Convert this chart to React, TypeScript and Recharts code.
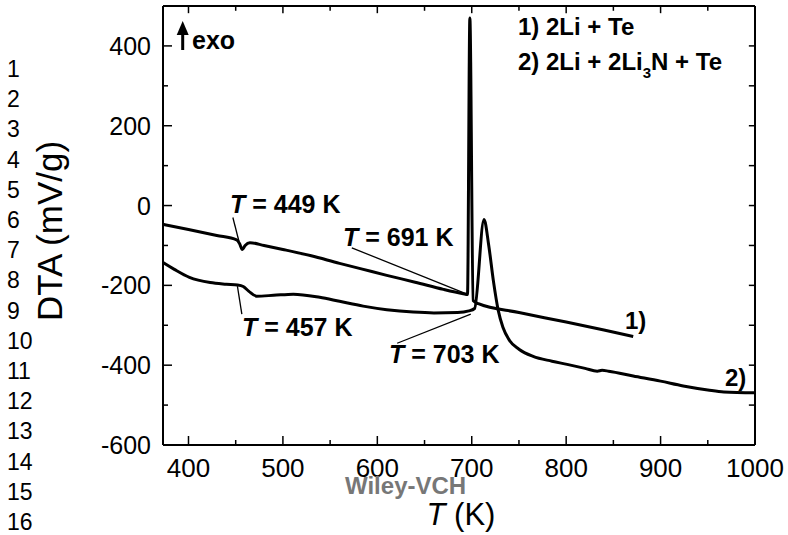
import React from 'react';
import { LineChart, Line, XAxis, YAxis, ReferenceLine } from 'recharts';

const FONT = '"Liberation Sans", Arial, Helvetica, sans-serif';

// curve 1) 2Li + Te
const temp1 = [373, 400, 430, 451, 454, 457, 460, 465, 480, 500, 530, 560, 582, 610, 640, 670, 691, 695.5, 698, 701.5, 707, 750, 800, 840, 871];
const dta1 = [-47, -60, -75, -86, -95, -110, -100, -93, -100, -110, -126, -145, -158, -175, -192, -210, -221, -223, 470, -238, -246, -268, -292, -312, -328];

// curve 2) 2Li + 2Li3N + Te
const temp2 = [373, 385, 401, 423, 440, 452, 458, 464, 472, 490, 511, 539, 560, 585, 610, 638, 660, 685, 697, 703, 713, 718, 723, 728, 733, 740, 750, 765, 785, 801, 820, 833, 838, 845, 871, 900, 924, 950, 967, 1000];
const dta2 = [-143, -160, -180, -193, -197, -199, -203, -215, -227, -225, -222, -230, -240, -252, -261, -267, -269, -268, -264, -258, -35, -100, -190, -262, -305, -338, -360, -378, -390, -398, -408, -415, -413, -415, -427, -440, -452, -462, -467, -469];

const xTicks = [400, 450, 500, 550, 600, 650, 700, 750, 800, 850, 900, 950, 1000];
const yTicks = [-600, -500, -400, -300, -200, -100, 0, 100, 200, 300, 400];
const rowNumbers = [1, 2, 3, 4, 5, 6, 7, 8, 9, 10, 11, 12, 13, 14, 15, 16];

const X_MIN = 373;
const X_MAX = 1000;
const Y_MIN = -600;
const Y_MAX = 500;

// leader lines from the onset labels to the curves, in (T, DTA)
const leaderSegments = [
  [{ x: 447, y: -30 }, { x: 453.5, y: -90 }],
  [{ x: 451.8, y: -202 }, { x: 456.5, y: -272 }],
  [{ x: 573, y: -106 }, { x: 695, y: -222 }],
  [{ x: 621, y: -345 }, { x: 699, y: -272 }],
];

const curve1 = temp1.map((t, i) => ({ t, dta: dta1[i] }));
const curve2 = temp2.map((t, i) => ({ t, dta: dta2[i] }));

// inward ticks on the top and right edges of the frame (in data units)
const topTickSegs = xTicks.map((v) => [
  { x: v, y: Y_MAX },
  { x: v, y: Y_MAX - (v % 100 === 0 ? 18 : 12) },
]);
const rightTickSegs = yTicks.map((v) => [
  { x: X_MAX, y: v },
  { x: X_MAX - 6.5, y: v },
]);

const tickStroke = { stroke: '#000', strokeWidth: 1.5 };

const BottomTick = ({ x, y, payload }: any) => {
  const major = payload.value % 100 === 0;
  return (
    <g>
      <line x1={x} y1={y} x2={x} y2={y - (major ? 9 : 5)} {...tickStroke} />
      {major && (
        <text x={x} y={y + 32} textAnchor="middle" fontSize={26} fontFamily={FONT} fill="#000">
          {payload.value}
        </text>
      )}
    </g>
  );
};

const LeftTick = ({ x, y, payload }: any) => {
  const major = payload.value % 200 === 0;
  return (
    <g>
      <line x1={x} y1={y} x2={x + (major ? 9 : 5)} y2={y} {...tickStroke} />
      {major && (
        <text x={x - 12} y={y + 9} textAnchor="end" fontSize={25} fontFamily={FONT} fill="#000">
          {payload.value}
        </text>
      )}
    </g>
  );
};

const axisLine = { stroke: '#000', strokeWidth: 2 };

const Annot = ({ x, y, value }: { x: number; y: number; value: string }) => (
  <text x={x} y={y} fontSize={25} fontWeight="bold" fontFamily={FONT} fill="#000">
    <tspan fontStyle="italic">T</tspan>
    {` = ${value} K`}
  </text>
);

export default function App() {
  return (
    <div style={{ position: 'absolute', left: 0, top: 0, width: 788, height: 535, background: '#fff' }}>
      <LineChart width={788} height={535} margin={{ top: 6, right: 33, bottom: 30, left: 0 }}>
        <XAxis
          xAxisId="b"
          type="number"
          dataKey="t"
          domain={[X_MIN, X_MAX]}
          allowDataOverflow
          ticks={xTicks}
          interval={0}
          height={60}
          tickLine={false}
          tickSize={0}
          tickMargin={0}
          axisLine={axisLine}
          tick={(p: any) => <BottomTick {...p} />}
        />
        <YAxis
          yAxisId="l"
          type="number"
          domain={[Y_MIN, Y_MAX]}
          allowDataOverflow
          ticks={yTicks}
          interval={0}
          width={163}
          tickLine={false}
          tickSize={0}
          tickMargin={0}
          axisLine={axisLine}
          tick={(p: any) => <LeftTick {...p} />}
        />
        {/* top and right edges of the frame */}
        <ReferenceLine xAxisId="b" yAxisId="l" y={Y_MAX} stroke="#000" strokeWidth={2} />
        <ReferenceLine xAxisId="b" yAxisId="l" x={X_MAX} stroke="#000" strokeWidth={2} />
        {topTickSegs.map((seg, i) => (
          <ReferenceLine key={`t${i}`} xAxisId="b" yAxisId="l" segment={seg} stroke="#000" strokeWidth={1.5} />
        ))}
        {rightTickSegs.map((seg, i) => (
          <ReferenceLine key={`r${i}`} xAxisId="b" yAxisId="l" segment={seg} stroke="#000" strokeWidth={1.5} />
        ))}
        {leaderSegments.map((seg, i) => (
          <ReferenceLine key={i} xAxisId="b" yAxisId="l" segment={seg} stroke="#000" strokeWidth={1.3} />
        ))}
        <Line
          xAxisId="b"
          yAxisId="l"
          data={curve1}
          dataKey="dta"
          type="monotone"
          stroke="#000"
          strokeWidth={3}
          dot={false}
          isAnimationActive={false}
        />
        <Line
          xAxisId="b"
          yAxisId="l"
          data={curve2}
          dataKey="dta"
          type="monotone"
          stroke="#000"
          strokeWidth={3}
          dot={false}
          isAnimationActive={false}
        />
      </LineChart>
      <svg
        width={788}
        height={535}
        style={{ position: 'absolute', left: 0, top: 0, pointerEvents: 'none' }}
        fontFamily={FONT}
      >
        {rowNumbers.map((n, i) => (
          <text key={n} x={7} y={77 + i * 30.2} fontSize={23} fill="#000">
            {n}
          </text>
        ))}
        <text transform="translate(62,231) rotate(-90)" textAnchor="middle" fontSize={35} fill="#000">
          DTA (mV/g)
        </text>
        <text x={461} y={525} textAnchor="middle" fontSize={31} fill="#000">
          <tspan fontStyle="italic">T</tspan> (K)
        </text>
        <text x={345} y={494} fontSize={24} fontWeight="bold" fill="#777">
          Wiley-VCH
        </text>

        {/* exo arrow */}
        <line x1={182.7} y1={50} x2={182.7} y2={33} stroke="#000" strokeWidth={3} />
        <polygon points="176.7,35 188.7,35 182.7,21" fill="#000" />
        <text x={192} y={49} fontSize={25} fontWeight="bold" fill="#000">
          exo
        </text>

        <text x={518} y={35} fontSize={24} fontWeight="bold" fill="#000">
          1) 2Li + Te
        </text>
        <text x={518} y={70} fontSize={24} fontWeight="bold" fill="#000">
          2) 2Li + 2Li
          <tspan fontSize={15} dy={8}>3</tspan>
          <tspan dy={-8}>N + Te</tspan>
        </text>

        <Annot x={230} y={213} value="449" />
        <Annot x={242} y={336} value="457" />
        <Annot x={343} y={246} value="691" />
        <Annot x={389} y={363} value="703" />

        <text x={625} y={329} fontSize={24} fontWeight="bold" fill="#000">
          1)
        </text>
        <text x={725} y={386} fontSize={24} fontWeight="bold" fill="#000">
          2)
        </text>
      </svg>
    </div>
  );
}
